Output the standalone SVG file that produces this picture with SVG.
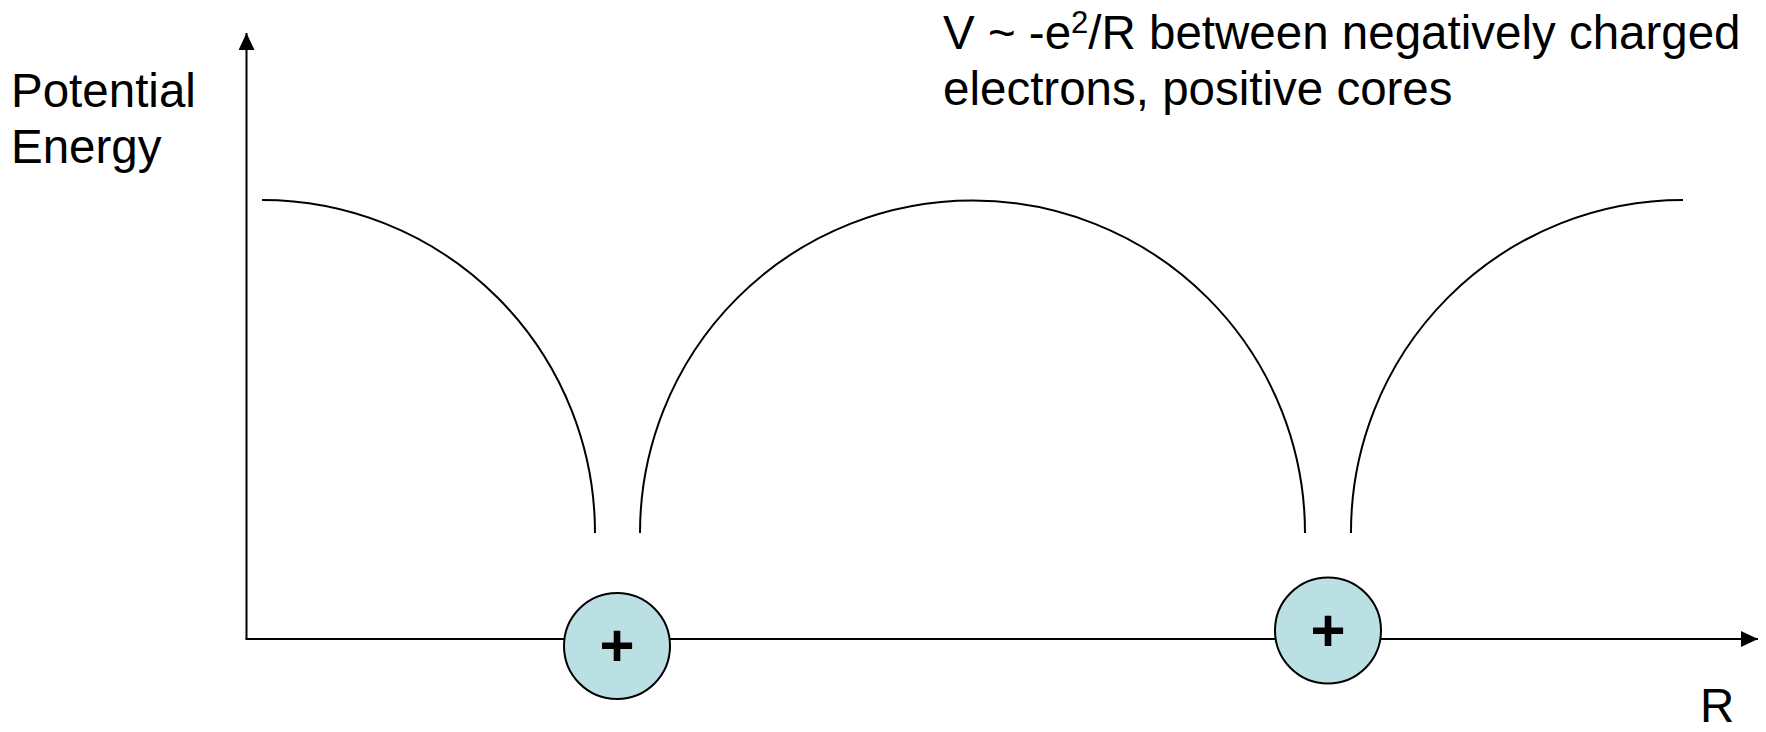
<svg xmlns="http://www.w3.org/2000/svg" width="1766" height="732" viewBox="0 0 1766 732">
<defs>
<style>
.lbl{font-family:"Liberation Sans",Arial,sans-serif;font-size:47.5px;fill:#000}
.plus{font-family:"Liberation Sans",Arial,sans-serif;font-size:60px;font-weight:bold;fill:#000;text-anchor:middle}
.axis{stroke:#000;stroke-width:2;fill:none}
.curve{stroke:#000;stroke-width:2;fill:none}
.core{fill:#BBE0E3;stroke:#000;stroke-width:2}
</style>
<marker id="arr" markerWidth="17" markerHeight="16" refX="17" refY="8" orient="auto" markerUnits="userSpaceOnUse">
<path d="M0,0 L17,8 L0,16 Z" fill="#000"/>
</marker>
</defs>
<rect width="1766" height="732" fill="#fff"/>
<g id="connectors">
<path id="y-axis" class="axis" d="M246.5,639 L246.5,33" marker-end="url(#arr)"/>
<path id="x-axis" class="axis" d="M245.5,639 L1758,639" marker-end="url(#arr)"/>
<path id="curve1" class="curve" d="M262,200 A333,333 0 0 1 595,533"/>
<path id="curve2" class="curve" d="M640,533 A332.5,332.5 0 0 1 1305,533"/>
<path id="curve3" class="curve" d="M1351,533 A332,332 0 0 1 1683,200"/>
</g>
<g id="core1">
<circle class="core" cx="617" cy="646" r="53"/>
<text class="plus" x="617" y="666">+</text>
</g>
<g id="core2">
<circle class="core" cx="1328" cy="630.5" r="53"/>
<text class="plus" x="1328" y="651">+</text>
</g>
<g id="ylabel">
<text class="lbl" x="11" y="107">Potential</text>
<text class="lbl" x="11" y="163">Energy</text>
</g>
<g id="title">
<text class="lbl" x="943" y="49">V ~ -e<tspan font-size="31" dy="-16">2</tspan><tspan dy="16">/R between negatively charged</tspan></text>
<text class="lbl" x="943" y="105">electrons, positive cores</text>
</g>
<g id="xlabel">
<text class="lbl" x="1700" y="722">R</text>
</g>
</svg>
